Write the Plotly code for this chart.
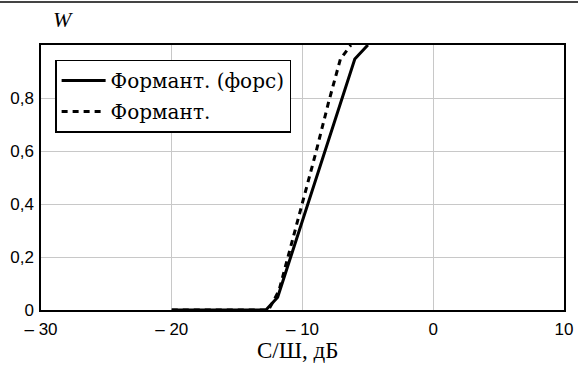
import plotly.graph_objects as go

snr_forced = [-20, -13, -12.8, -11.9, -11, -10, -9, -8, -7, -6, -5]
w_forced = [0, 0, 0, 0.048, 0.185, 0.34, 0.49, 0.64, 0.795, 0.947, 1.0]

snr_plain = [-20, -13, -12.6, -11.8, -11, -10, -9, -8, -7.1, -6.3]
w_plain = [0, 0, 0, 0.073, 0.22, 0.41, 0.59, 0.785, 0.947, 1.0]

x_ticks = [-30, -20, -10, 0, 10]
x_ticktext = ["\u2013 30", "\u2013 20", "\u2013 10", "0", "10"]
y_ticks = [0, 0.2, 0.4, 0.6, 0.8]
y_ticktext = ["0", "0,2", "0,4", "0,6", "0,8"]

fig = go.Figure()
fig.add_trace(go.Scatter(x=snr_forced, y=w_forced, mode="lines",
                         name="Формант. (форс)", legendgroup="a",
                         line=dict(color="black", width=3)))
fig.add_trace(go.Scatter(x=snr_plain, y=w_plain, mode="lines",
                         name="Формант.", legendgroup="b",
                         line=dict(color="black", width=3, dash="6px,5px")))

fig.update_layout(
    width=578, height=367,
    margin=dict(l=41, r=14, t=45, b=57, autoexpand=False),
    plot_bgcolor="white", paper_bgcolor="white",
    font=dict(family="Liberation Sans", color="black", size=17),
    legend=dict(x=0.027, y=0.945, xanchor="left", yanchor="top",
                bordercolor="black", borderwidth=1.5, bgcolor="white",
                font=dict(family="DejaVu Serif", size=20),
                itemwidth=44,
                tracegroupgap=2, traceorder="grouped"),
    xaxis=dict(range=[-30, 10], tickvals=x_ticks, ticktext=x_ticktext,
               showgrid=True, gridcolor="#c8c8c8", gridwidth=1,
               showline=True, linecolor="black", linewidth=1.5, mirror=True,
               ticks="", zeroline=False, automargin=False, ticklabelstandoff=3),
    yaxis=dict(range=[0, 1.0], tickvals=y_ticks, ticktext=y_ticktext,
               showgrid=True, gridcolor="#c8c8c8", gridwidth=1,
               showline=True, linecolor="black", linewidth=1.5, mirror=True,
               ticks="", zeroline=False, automargin=False, ticklabelstandoff=2),
    annotations=[
        dict(text="<i>W</i>", xref="paper", yref="paper", x=0.042, y=1.095,
             xanchor="center", yanchor="middle",
             showarrow=False, font=dict(family="Liberation Serif", size=22)),
        dict(text="С/Ш, дБ", xref="paper", yref="paper", x=0.49, y=-0.153,
             xanchor="center", yanchor="middle",
             showarrow=False, font=dict(family="Liberation Serif", size=23)),
    ],
    shapes=[dict(type="line", xref="paper", yref="paper", x0=-0.1, x1=1.1,
                 y0=1.162, y1=1.162, line=dict(color="#444", width=2))],
)

fig.write_html("out.html")
